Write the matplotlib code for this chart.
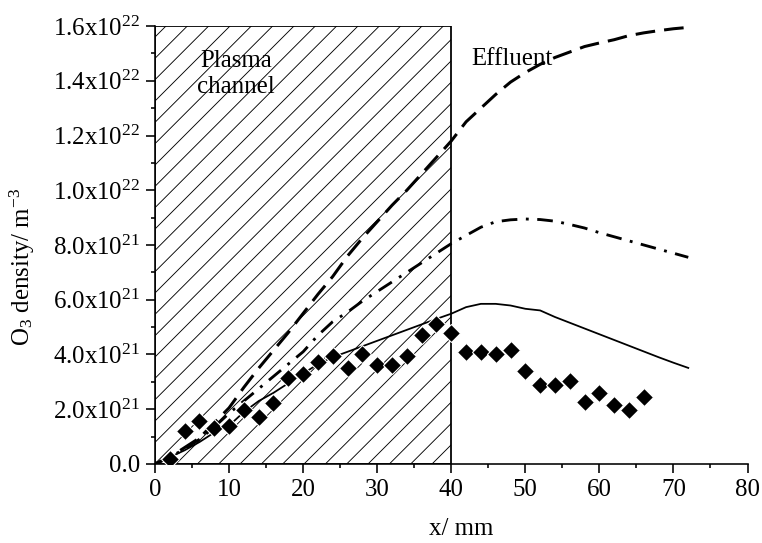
import numpy as np
import matplotlib
matplotlib.use('Agg')
import matplotlib.pyplot as plt
from matplotlib.ticker import MultipleLocator

# 폰트 설정
plt.rcParams['font.family'] = ['Liberation Serif', 'DejaVu Serif']
plt.rcParams['mathtext.fontset'] = 'custom'
plt.rcParams['mathtext.rm'] = 'Liberation Serif'
plt.rcParams['mathtext.it'] = 'Liberation Serif:italic'
plt.rcParams['mathtext.bf'] = 'Liberation Serif:bold'
plt.rcParams['hatch.linewidth'] = 0.5

# 측정값 (diamond), 단위 1e21 m^-3
x_meas = [2, 4, 6, 8, 10, 12, 14, 16, 18, 20, 22, 24, 26, 28, 30, 32, 34, 36, 38, 40,
          42, 44, 46, 48, 50, 52, 54, 56, 58, 60, 62, 64, 66]
y_meas = [0.18, 1.22, 1.56, 1.32, 1.37, 1.98, 1.71, 2.23, 3.13, 3.29, 3.74, 3.93, 3.50,
          4.00, 3.63, 3.63, 3.93, 4.70, 5.10, 4.79,
          4.09, 4.09, 4.02, 4.17, 3.39, 2.89, 2.89, 3.05, 2.26, 2.60, 2.16, 1.98, 2.44]

# 모델 곡선
x_model = [0, 2, 4, 6, 8, 10, 12, 14, 16, 18, 20, 22, 24, 26, 28, 30, 32, 34, 36, 38, 40,
           42, 44, 46, 48, 50, 52, 54, 56, 58, 60, 62, 64, 66, 68, 70, 72]
y_dash = [0, 0.25, 0.6, 0.95, 1.5, 2.05, 2.8, 3.5, 4.15, 4.8, 5.5, 6.2, 6.85, 7.6, 8.25,
          8.85, 9.45, 10.0, 10.6, 11.2, 11.8, 12.5, 13.0, 13.5, 13.95, 14.3, 14.6, 14.85,
          15.05, 15.25, 15.38, 15.5, 15.65, 15.75, 15.83, 15.9, 15.95]
y_dashdot = [0, 0.25, 0.55, 0.9, 1.35, 1.85, 2.3, 2.75, 3.2, 3.65, 4.1, 4.7, 5.2, 5.55,
             5.95, 6.3, 6.65, 7.0, 7.35, 7.7, 8.05, 8.35, 8.65, 8.85, 8.92, 8.95, 8.93,
             8.87, 8.75, 8.62, 8.45, 8.3, 8.15, 8.0, 7.85, 7.7, 7.55]
y_solid = [0, 0.25, 0.5, 0.8, 1.15, 1.4, 1.9, 2.3, 2.6, 2.95, 3.3, 3.65, 3.9, 4.1, 4.3,
           4.5, 4.7, 4.9, 5.1, 5.3, 5.49, 5.73, 5.85, 5.85, 5.79, 5.67, 5.61, 5.37, 5.16,
           4.95, 4.74, 4.53, 4.32, 4.11, 3.9, 3.7, 3.51]

channel_end = 40
yticks = [0, 2, 4, 6, 8, 10, 12, 14, 16]
ytick_labels = ['0.0', '2.0x10$^{21}$', '4.0x10$^{21}$', '6.0x10$^{21}$', '8.0x10$^{21}$',
                '1.0x10$^{22}$', '1.2x10$^{22}$', '1.4x10$^{22}$', '1.6x10$^{22}$']

dpi = 128
fig = plt.figure(figsize=(762 / dpi, 543 / dpi), dpi=dpi)
ax = fig.add_axes([0.2034, 0.1455, 0.7776, 0.8066])

fs = 14

# plasma channel 영역
ax.axvspan(0, channel_end, facecolor='none', edgecolor='black', hatch='//',
           linewidth=1.0, zorder=1)

ax.plot(x_model, y_dash, color='black', lw=1.7, dashes=(6.5, 3.0), zorder=3)
ax.plot(x_model, y_dashdot, color='black', lw=1.6, dashes=(5.5, 3, 1, 3), zorder=3)
ax.plot(x_model, y_solid, color='black', lw=1.0, zorder=3)
ax.plot(x_meas, y_meas, linestyle='none', marker='D', ms=7.4, color='black',
        mec='white', mew=0.6, zorder=4)

ax.text(10.9, 14.25, 'Plasma\nchannel', ha='center', va='center', fontsize=fs,
        linespacing=1.2, zorder=5)
ax.text(42.7, 14.8, 'Effluent', ha='left', va='center', fontsize=fs, zorder=5)

ax.set_xlim(0, 80)
ax.set_ylim(0, 16)
ax.xaxis.set_major_locator(MultipleLocator(10))
ax.xaxis.set_minor_locator(MultipleLocator(5))
ax.set_yticks(yticks)
ax.set_yticklabels(ytick_labels)
ax.yaxis.set_minor_locator(MultipleLocator(1))

for s in ['top', 'right']:
    ax.spines[s].set_visible(False)
for s in ['left', 'bottom']:
    ax.spines[s].set_linewidth(0.9)

ax.tick_params(which='major', direction='out', length=5, width=0.9, labelsize=fs, pad=3.5)
ax.tick_params(which='minor', direction='out', length=2.5, width=0.9)

ax.set_xlabel('x/ mm', fontsize=fs)
ax.set_ylabel('O$_3$ density/ m$^{-3}$', fontsize=fs)
ax.xaxis.set_label_coords(0.517, -0.124)
ax.yaxis.set_label_coords(-0.199, 0.45)

fig.savefig('out.png', dpi=dpi)
